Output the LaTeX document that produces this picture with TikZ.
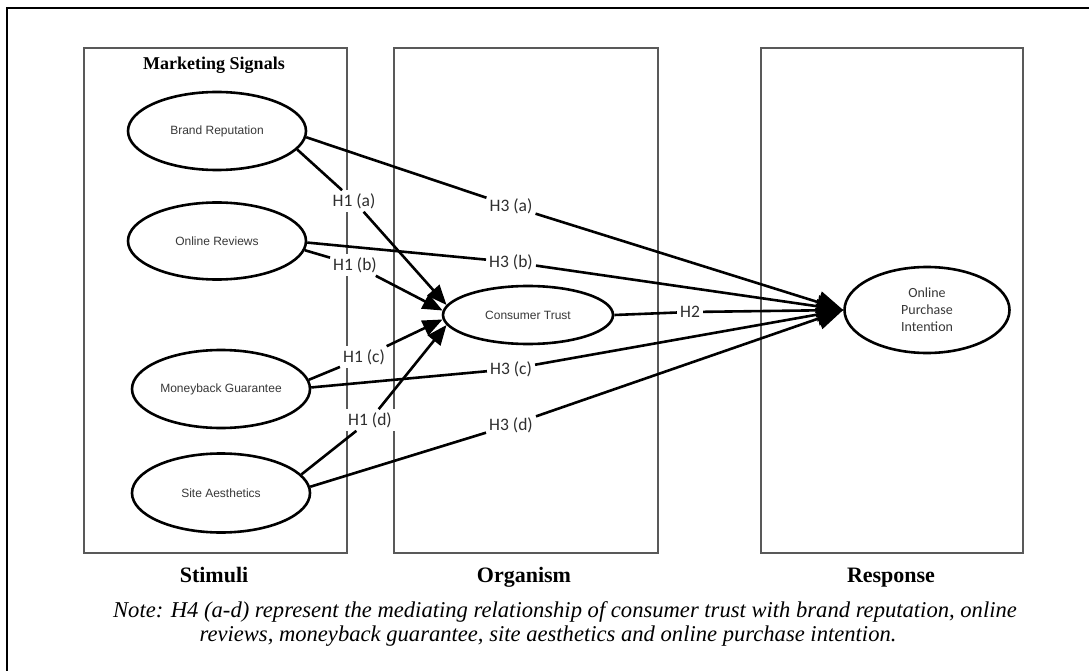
\documentclass[tikz,border=0pt]{standalone}
\usepackage{fontspec}
\setmainfont{Liberation Serif}
\newfontfamily\arialf{Liberation Sans}
\newfontfamily\calf{Carlito}
\usetikzlibrary{shapes.geometric,arrows.meta}
\begin{document}
\begin{tikzpicture}[x=1pt,y=-1pt,
  panel/.style={draw=black!65, line width=1.4pt},
  construct/.style={ellipse, draw=black, line width=2.6pt, fill=white, inner sep=0pt,
    font=\arialf\fontsize{12}{14}\selectfont, text=black!78},
  hyp/.style={fill=white, inner sep=3pt, font=\calf\fontsize{17.5}{20}\selectfont, text=black!82},
  link/.style={line width=2.6pt},
  tobig/.style={link, -{Triangle[length=26pt,width=22pt]}},
  tosmall/.style={link, -{Triangle[length=20pt,width=16pt]}},
  heading/.style={font=\bfseries\fontsize{22}{24}\selectfont, anchor=base},
  noteline/.style={font=\itshape\fontsize{22.6}{25}\selectfont, anchor=base}
]
\useasboundingbox (0,0) rectangle (1089,671);
\clip (0,0) rectangle (1089,671);
\fill[white] (0,0) rectangle (1089,671);
% outer frame
\draw[line width=2.5pt] (7,700) -- (7,8) -- (1100,8);
% panels
\draw[panel] (84,48) rectangle (347,553);
\draw[panel] (394,48) rectangle (658,553);
\draw[panel] (761,48) rectangle (1023,553);
% titles
\node[font=\bfseries\fontsize{18}{20}\selectfont] (ms) at (214,65) {Marketing Signals};
\node[heading] (stim) at (214,582) {Stimuli};
\node[heading] (orgn) at (524,582) {Organism};
\node[heading] (resp) at (891,582) {Response};
\node[noteline] (note1) at (565,617) {Note: H4 (a-d) represent the mediating relationship of consumer trust with brand reputation, online};
\node[noteline] (note2) at (548,641) {reviews, moneyback guarantee, site aesthetics and online purchase intention.};
% constructs
\node[construct, minimum width=178, minimum height=78] (br) at (217,131) {Brand Reputation};
\node[construct, minimum width=178, minimum height=77] (or) at (217,241) {Online Reviews};
\node[construct, minimum width=178, minimum height=78] (mg) at (221,389) {Moneyback Guarantee};
\node[construct, minimum width=178, minimum height=79] (sa) at (221,493) {Site Aesthetics};
\node[construct, minimum width=170, minimum height=58] (ct) at (528,315) {Consumer Trust};
\node[construct, minimum width=165, minimum height=86, align=center,
  font=\calf\fontsize{14}{17}\selectfont] (opi) at (927,310) {Online\\Purchase\\Intention};
% hypothesis labels
\node[hyp] (h1a) at (354,201) {H1 (a)};
\node[hyp] (h1b) at (355,265) {H1 (b)};
\node[hyp] (h1c) at (364,357) {H1 (c)};
\node[hyp] (h1d) at (370,420) {H1 (d)};
\node[hyp] (h3a) at (511,206) {H3 (a)};
\node[hyp] (h3b) at (511,262) {H3 (b)};
\node[hyp] (h3c) at (511,369) {H3 (c)};
\node[hyp] (h3d) at (511,425) {H3 (d)};
\node[hyp] (h2) at (690,312) {H2};
% H1 connectors
\draw[link] (br.-13) -- (h1a); \draw[tosmall] (h1a) -- (ct.173);
\draw[link] (or.-6) -- (h1b); \draw[tosmall] (h1b) -- (ct.177);
\draw[link] (mg.6) -- (h1c); \draw[tosmall] (h1c) -- (ct.183);
\draw[link] (sa.13) -- (h1d); \draw[tosmall] (h1d) -- (ct.187);
% H3 connectors
\draw[link] (br.-4) -- (h3a); \draw[tobig] (h3a) -- (opi.west);
\draw[link] (or.-1) -- (h3b); \draw[tobig] (h3b) -- (opi.west);
\draw[link] (mg.1) -- (h3c); \draw[tobig] (h3c) -- (opi.west);
\draw[link] (sa.4) -- (h3d); \draw[tobig] (h3d) -- (opi.west);
% H2
\draw[link] (ct.east) -- (h2); \draw[tobig] (h2) -- (opi.west);
\end{tikzpicture}
\end{document}
